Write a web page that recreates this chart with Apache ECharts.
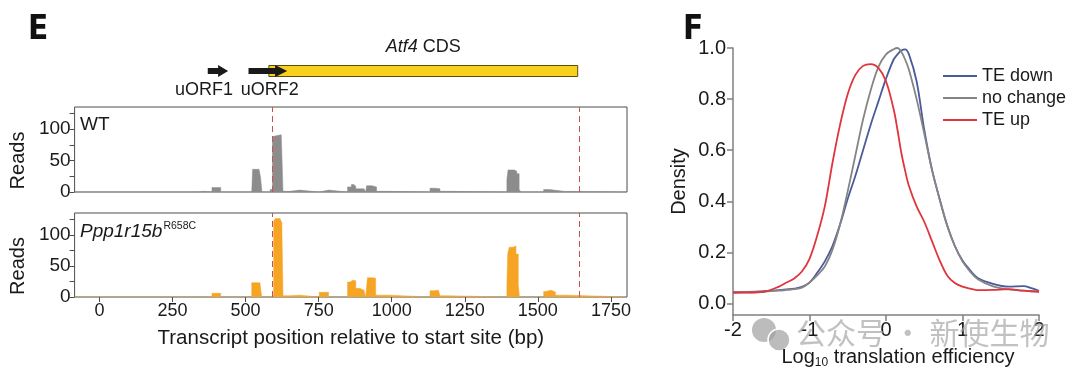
<!DOCTYPE html>
<html><head><meta charset="utf-8">
<script src="https://cdn.jsdelivr.net/npm/echarts@6/dist/echarts.min.js"></script>
<style>html,body{margin:0;padding:0;background:#fff}#c{width:1080px;height:382px}</style>
</head><body><div id="c"></div>
<script>
// ---------- data ----------
const xMin = -85, xMax = 1805;
const xTicks = [0, 250, 500, 750, 1000, 1250, 1500, 1750];
const readTicks = [0, 25, 50, 75, 100, 125];
const readLabels = [0, 50, 100];
const cdsBounds = [590, 1640];

const featNames = ['Atf4 CDS', 'uORF1', 'uORF2'];
const featStart = [592, 385, 523];
const featEnd   = [1638, 454, 654];
const featHead  = [null, 420, 613];

// read coverage: value holds from each position to the next one
const wtPos   = [-85, 338, 356, 385, 415, 521, 524, 546, 551, 556, 584, 592, 598, 622, 628, 651, 685, 752, 784, 849, 862, 870, 877, 905, 911, 914, 932, 948, 990, 1131, 1150, 1165, 1200, 1394, 1398, 1420, 1428, 1436, 1442, 1520, 1540, 1554, 1590, 1805];
const wtReads = [0,   1,   0,   7,   0,   2,   36,  33,  24,  0,   4,   88,  91,  89,  1,   3,   0,   3,   0,   8,   12,  9,   5,   4,   0,   10,  8,   1,   0,   6,    5,    1,    0,    20,   35,   33,   29,   4,    0,    4,    3,    1,    0,    0];

const pppPos   = [-85, 360, 385, 415, 521, 549, 555, 584, 596, 602, 618, 624, 628, 651, 685, 752, 784, 849, 858, 866, 870, 877, 890, 905, 911, 917, 935, 945, 990, 1131, 1140, 1160, 1165, 1190, 1394, 1397, 1402, 1415, 1425, 1433, 1437, 1520, 1528, 1545, 1560, 1600, 1805];
const pppReads = [0,   1,   6,   0,   23,  20,  0,   3,   122, 126, 124, 119, 2,   3,   0,   7.5, 0,   24,  27,  30,  26,  14,  11,  9,   0,   31,  30,  3,   0,   10,   11,   9,    2,    0,    20,   70,   80,   82,   69,   20,   0,    9,    11,   8,    3,    0,    0];

const teX      = [-2, -1.8, -1.6, -1.4, -1.3, -1.2, -1.1, -1, -0.9, -0.8, -0.7, -0.6, -0.5, -0.4, -0.3, -0.2, -0.1, 0, 0.1, 0.15, 0.2, 0.25, 0.3, 0.4, 0.5, 0.6, 0.7, 0.8, 0.9, 1, 1.1, 1.2, 1.4, 1.6, 1.8, 1.9, 2];
const teDown   = [0.043, 0.045, 0.048, 0.052, 0.055, 0.058, 0.065, 0.082, 0.12, 0.165, 0.225, 0.31, 0.41, 0.50, 0.60, 0.70, 0.79, 0.88, 0.955, 0.975, 0.99, 0.995, 0.975, 0.87, 0.68, 0.525, 0.41, 0.305, 0.225, 0.168, 0.13, 0.10, 0.077, 0.066, 0.068, 0.06, 0.05];
const noChange = [0.043, 0.044, 0.046, 0.05, 0.053, 0.056, 0.062, 0.082, 0.11, 0.145, 0.21, 0.31, 0.44, 0.58, 0.72, 0.835, 0.925, 0.975, 0.995, 1.0, 0.985, 0.955, 0.915, 0.80, 0.665, 0.525, 0.41, 0.305, 0.225, 0.165, 0.125, 0.095, 0.067, 0.055, 0.05, 0.048, 0.047];
const teUp     = [0.043, 0.043, 0.046, 0.066, 0.082, 0.098, 0.125, 0.175, 0.265, 0.38, 0.55, 0.70, 0.82, 0.895, 0.93, 0.937, 0.922, 0.87, 0.76, 0.68, 0.59, 0.52, 0.46, 0.38, 0.32, 0.245, 0.17, 0.11, 0.08, 0.066, 0.058, 0.052, 0.053, 0.056, 0.05, 0.048, 0.046];
const teNames  = ['TE down', 'no change', 'TE up'];
const densityTicks = [0, 0.2, 0.4, 0.6, 0.8, 1.0];

// ---------- styles ----------
const FONT = '"Liberation Sans", Arial, sans-serif';
const TXT = '#1a1a1a';
const BOX = '#4d4d4d';
const labelShift = { uORF1: -14, uORF2: 2 };
const teColors = ['#4b5a9b', '#858585', '#e0353c'];

// step outline built from the coverage arrays (each value held until next position)
function stepData(pos, vals) {
  const out = [];
  for (let i = 0; i < pos.length; i++) {
    if (i > 0) out.push([pos[i], vals[i - 1]]);
    out.push([pos[i], vals[i]]);
  }
  return out;
}

const chart = echarts.init(document.getElementById('c'), null, { renderer: 'canvas' });

function readsYAxis(grid) {
  return {
    gridIndex: grid, type: 'value', min: 0, max: 135,
    axisLine: { show: false, onZero: false },
    axisTick: { show: true, customValues: readTicks, length: 5, lineStyle: { color: BOX } },
    axisLabel: { customValues: readLabels, fontSize: 19, fontFamily: FONT, color: TXT, margin: 4 },
    splitLine: { show: false },
    name: 'Reads', nameLocation: 'middle', nameRotate: 90, nameGap: 37,
    nameTextStyle: { fontSize: 20, fontFamily: FONT, color: TXT, padding: [0, 22, 0, 0] }
  };
}
function readsSeries(name, pos, vals, color, xi, yi) {
  return {
    name: name, type: 'line', xAxisIndex: xi, yAxisIndex: yi,
    data: stepData(pos, vals), symbol: 'none', sampling: null,
    lineStyle: { width: 0.5, color: color }, areaStyle: { color: color, opacity: 1 },
    markLine: {
      silent: true, symbol: 'none', label: { show: false },
      lineStyle: { type: [6, 4], color: '#c9524f', width: 1 },
      data: cdsBounds.map(v => ({ xAxis: v }))
    }
  };
}

const option = {
  animation: false,
  backgroundColor: '#fff',
  grid: [
    { left: 69, top: 41, width: 558, height: 60 },
    { left: 69, top: 107, width: 558, height: 85, show: true, borderColor: BOX, borderWidth: 1 },
    { left: 69, top: 213, width: 558, height: 84, show: true, borderColor: BOX, borderWidth: 1 },
    { left: 733, top: 48, width: 306, height: 267 }
  ],
  xAxis: [
    { gridIndex: 0, type: 'value', min: xMin, max: xMax, show: false },
    { gridIndex: 1, type: 'value', min: xMin, max: xMax,
      axisLine: { show: false }, axisTick: { show: false }, axisLabel: { show: false }, splitLine: { show: false } },
    { gridIndex: 2, type: 'value', min: xMin, max: xMax,
      axisLine: { show: false, onZero: false },
      axisTick: { show: true, customValues: xTicks, length: 5, lineStyle: { color: BOX } },
      axisLabel: { customValues: xTicks, formatter: v => String(v), fontSize: 18, fontFamily: FONT, color: TXT, margin: 5 },
      splitLine: { show: false },
      name: 'Transcript position relative to start site (bp)', nameLocation: 'middle', nameGap: 31,
      nameTextStyle: { fontSize: 20.5, fontFamily: FONT, color: TXT } },
    { gridIndex: 3, type: 'value', min: -2, max: 2, interval: 1,
      axisLine: { show: true, onZero: false, lineStyle: { color: '#808080', width: 1.5 } },
      axisTick: { show: true, length: 6, lineStyle: { color: '#808080', width: 1.5 } },
      axisLabel: { fontSize: 20, fontFamily: FONT, color: TXT, margin: 5 },
      splitLine: { show: false },
      name: '{a|Log}{b|10}{a| translation efficiency}', nameLocation: 'middle', nameGap: 26,
      nameTextStyle: { padding: [0, 0, 0, 24], rich: {
        a: { fontSize: 20, fontFamily: FONT, color: TXT, lineHeight: 22 },
        b: { fontSize: 12, fontFamily: FONT, color: TXT, lineHeight: 12, padding: [12, 0, 0, 0], verticalAlign: 'bottom' }
      } } }
  ],
  yAxis: [
    { gridIndex: 0, type: 'value', min: 0, max: 1, show: false },
    readsYAxis(1),
    readsYAxis(2),
    { gridIndex: 3, type: 'value', min: -0.045, max: 1,
      axisLine: { show: true, onZero: false, lineStyle: { color: '#808080', width: 1.5 } },
      axisTick: { show: true, customValues: densityTicks, length: 6, lineStyle: { color: '#808080', width: 1.5 } },
      axisLabel: { customValues: densityTicks, formatter: v => v.toFixed(1), fontSize: 20, fontFamily: FONT, color: TXT, margin: 7 },
      splitLine: { show: false },
      name: 'Density', nameLocation: 'middle', nameRotate: 90, nameGap: 44,
      nameTextStyle: { fontSize: 20, fontFamily: FONT, color: TXT } }
  ],
  legend: {
    data: teNames, orient: 'vertical', left: 938, top: 61,
    icon: 'rect', itemWidth: 34, itemHeight: 2, itemGap: 2,
    textStyle: { fontSize: 18, fontFamily: FONT, color: TXT, lineHeight: 20 }
  },
  graphic: [
    { type: 'text', left: 28, top: 14, style: { text: 'E', font: 'bold 33px "Liberation Sans Narrow", "DejaVu Sans Condensed", sans-serif', fill: '#111' } },
    { type: 'text', left: 683, top: 14, style: { text: 'F', font: 'bold 33px "Liberation Sans Narrow", "DejaVu Sans Condensed", sans-serif', fill: '#111' } },
    { type: 'text', left: 80, top: 115, style: { text: 'WT', fontSize: 19, fontFamily: FONT, fill: TXT } },
    { type: 'text', left: 80, top: 221, style: { text: '{i|Ppp1r15b}{s|R658C}', rich: {
        i: { fontSize: 19, fontFamily: FONT, fontStyle: 'italic', fill: TXT, lineHeight: 22 },
        s: { fontSize: 10.5, fontFamily: FONT, fill: TXT, lineHeight: 12, verticalAlign: 'top', padding: [0, 0, 10, 1] }
      } } },
    { type: 'group', left: 752, top: 318, z: 100, children: [
        { type: 'circle', shape: { cx: 13, cy: 13, r: 12 }, style: { fill: 'rgba(160,160,160,0.7)' } },
        { type: 'circle', shape: { cx: 28, cy: 23, r: 11 }, style: { fill: 'rgba(160,160,160,0.7)', stroke: '#fff', lineWidth: 1.5 } }
      ] },
    { type: 'text', left: 796, top: 318, z: 100, style: { text: '公众号 · 新使生物', fontSize: 30, fontFamily: '"Noto Sans CJK SC", sans-serif', fill: 'rgba(160,160,160,0.65)' } }
  ],
  series: [
    {
      type: 'custom', xAxisIndex: 0, yAxisIndex: 0, silent: true,
      data: featNames.map((n, i) => [featStart[i], featEnd[i], featHead[i] == null ? 0 : featHead[i], i]),
      encode: { x: [0, 1] },
      renderItem: function (params, api) {
        const i = api.value(3);
        const name = featNames[i];
        const s = api.coord([api.value(0), 0.5]);
        const e = api.coord([api.value(1), 0.5]);
        const y = s[1];
        if (name === 'Atf4 CDS') {
          return { type: 'group', children: [
            { type: 'rect', shape: { x: s[0], y: y - 5.5, width: e[0] - s[0], height: 11 },
              style: { fill: '#f7d11e', stroke: '#5c4d0a', lineWidth: 1 } },
            { type: 'text', style: { text: '{i|Atf4} CDS', x: (s[0] + e[0]) / 2, y: y - 24, align: 'center', verticalAlign: 'middle',
                fontSize: 18, fontFamily: FONT, fill: TXT,
                rich: { i: { fontStyle: 'italic', fontSize: 18, fontFamily: FONT, fill: TXT } } } }
          ] };
        }
        const h = api.coord([api.value(2), 0.5])[0];
        const bt = 3, ht = 6;
        return { type: 'group', children: [
          { type: 'polygon', shape: { points: [[s[0], y - bt], [h, y - bt], [h, y - ht], [e[0], y], [h, y + ht], [h, y + bt], [s[0], y + bt]] },
            style: { fill: '#1a1a1a' } },
          { type: 'text', style: { text: name, x: (s[0] + e[0]) / 2 + labelShift[name], y: y + 19, align: 'center', verticalAlign: 'middle',
              fontSize: 18, fontFamily: FONT, fill: TXT } }
        ] };
      }
    },
    readsSeries('WT', wtPos, wtReads, '#8c8c8c', 1, 1),
    readsSeries('Ppp1r15b', pppPos, pppReads, '#f6a424', 2, 2),
    ...teNames.map((n, k) => ({
      name: n, type: 'line', xAxisIndex: 3, yAxisIndex: 3, smooth: 0.35, symbol: 'none',
      data: teX.map((x, i) => [x, [teDown, noChange, teUp][k][i]]),
      lineStyle: { width: 1.8, color: teColors[k] }, itemStyle: { color: teColors[k] }
    }))
  ]
};
chart.setOption(option);
</script>
</body></html>
